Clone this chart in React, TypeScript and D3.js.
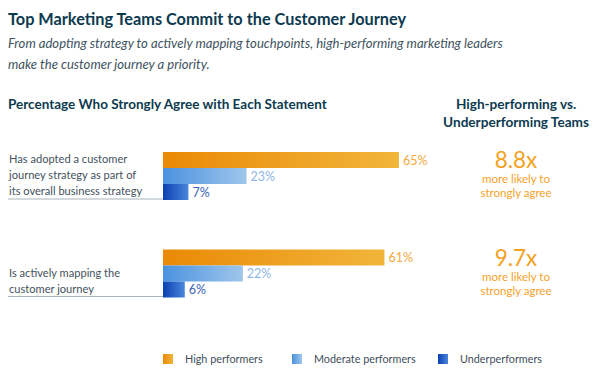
import React from 'react';
import * as d3 from 'd3';

const W = 600, H = 373;
const FONT = 'Lato, "Open Sans", sans-serif';

const categories = ['adopted', 'mapping'];
const categoryLines = [
  ['Has adopted a customer', 'journey strategy as part of', 'its overall business strategy'],
  ['Is actively mapping the', 'customer journey'],
];
const series = ['High performers', 'Moderate performers', 'Underperformers'];
const highValues = [65, 61];
const moderateValues = [23, 22];
const underValues = [7, 6];
const ratios = ['8.8x', '9.7x'];

const seriesColors = [
  { from: '#ea8a06', to: '#f1b53a', label: '#f2a93a' },
  { from: '#4a92de', to: '#9fc6ec', label: '#8fb6e6' },
  { from: '#0a40b2', to: '#4a86dc', label: '#3a62b8' },
];

const values = [highValues, moderateValues, underValues];

export default function App() {
  const x = d3.scaleLinear().domain([0, 100]).range([163, 526]);
  const yGroup = d3.scalePoint<string>().domain(categories).range([152, 249.5]);
  const yInner = d3.scaleBand<string>().domain(series).range([0, 48]).padding(0);
  const bh = yInner.bandwidth();

  return (
    <svg width={W} height={H} style={{ position: 'absolute', left: 0, top: 0 }}>
      <defs>
        {seriesColors.map((c, i) => (
          <linearGradient key={i} id={`g${i}`} x1="0" x2="1" y1="0" y2="0">
            <stop offset="0%" stopColor={c.from} />
            <stop offset="100%" stopColor={c.to} />
          </linearGradient>
        ))}
      </defs>
      <rect width={W} height={H} fill="#fff" />
      <text x={8} y={25} fontFamily={FONT} fontWeight={700} fontSize={16.3} fill="#0c3a4f">
        Top Marketing Teams Commit to the Customer Journey
      </text>
      <text x={8} y={48} fontFamily={FONT} fontStyle="italic" fontSize={13.1} fill="#3e5260">
        From adopting strategy to actively mapping touchpoints, high-performing marketing leaders
      </text>
      <text x={8} y={69} fontFamily={FONT} fontStyle="italic" fontSize={13.1} fill="#3e5260">
        make the customer journey a priority.
      </text>
      <text x={8} y={109} fontFamily={FONT} fontWeight={700} fontSize={13.5} fill="#0c3a4f">
        Percentage Who Strongly Agree with Each Statement
      </text>
      <text x={516} y={109} textAnchor="middle" fontFamily={FONT} fontWeight={700} fontSize={13.6} fill="#0c3a4f">
        <tspan x={516}>High-performing vs.</tspan>
        <tspan x={516} dy={18}>Underperforming Teams</tspan>
      </text>

      {categories.map((cat, ci) => {
        const top = yGroup(cat)!;
        const lines = categoryLines[ci];
        const bottom = top + 48;
        const firstBase = bottom - 5 - (lines.length - 1) * 16;
        return (
          <g key={cat}>
            <line x1={8} x2={x(0)} y1={bottom - 1} y2={bottom - 1} stroke="#a9b4bc" strokeWidth={1.2} />
            {lines.map((l, li) => (
              <text key={li} x={9} y={firstBase + li * 16} fontFamily={FONT} fontSize={11.1} fill="#44525c">
                {l}
              </text>
            ))}
            {series.map((s, si) => {
              const v = values[si][ci];
              const y0 = top + yInner(s)!;
              return (
                <g key={s}>
                  <rect x={x(0)} y={y0} width={x(v) - x(0)} height={bh} fill={`url(#g${si})`} />
                  <text x={x(v) + 4} y={y0 + bh / 2 + 4.5} fontFamily={FONT} fontSize={12.5} fill={seriesColors[si].label}>
                    {v}%
                  </text>
                </g>
              );
            })}
            <text x={516} y={top + 16} textAnchor="middle" fontFamily={FONT} fontSize={22.5} fill="#f4a11e">
              {ratios[ci]}
            </text>
            <text x={516} y={top + 31} textAnchor="middle" fontFamily={FONT} fontSize={11.5} fill="#f4a22a">
              more likely to
            </text>
            <text x={516} y={top + 45} textAnchor="middle" fontFamily={FONT} fontSize={11.5} fill="#f4a22a">
              strongly agree
            </text>
          </g>
        );
      })}

      {series.map((s, si) => {
        const lx = [163, 292, 438][si];
        return (
          <g key={s}>
            <rect x={lx} y={354} width={10} height={10} fill={`url(#g${si})`} />
            <text x={lx + 22} y={363} fontFamily={FONT} fontSize={10.8} fill="#3e4e5a">
              {s}
            </text>
          </g>
        );
      })}
    </svg>
  );
}
